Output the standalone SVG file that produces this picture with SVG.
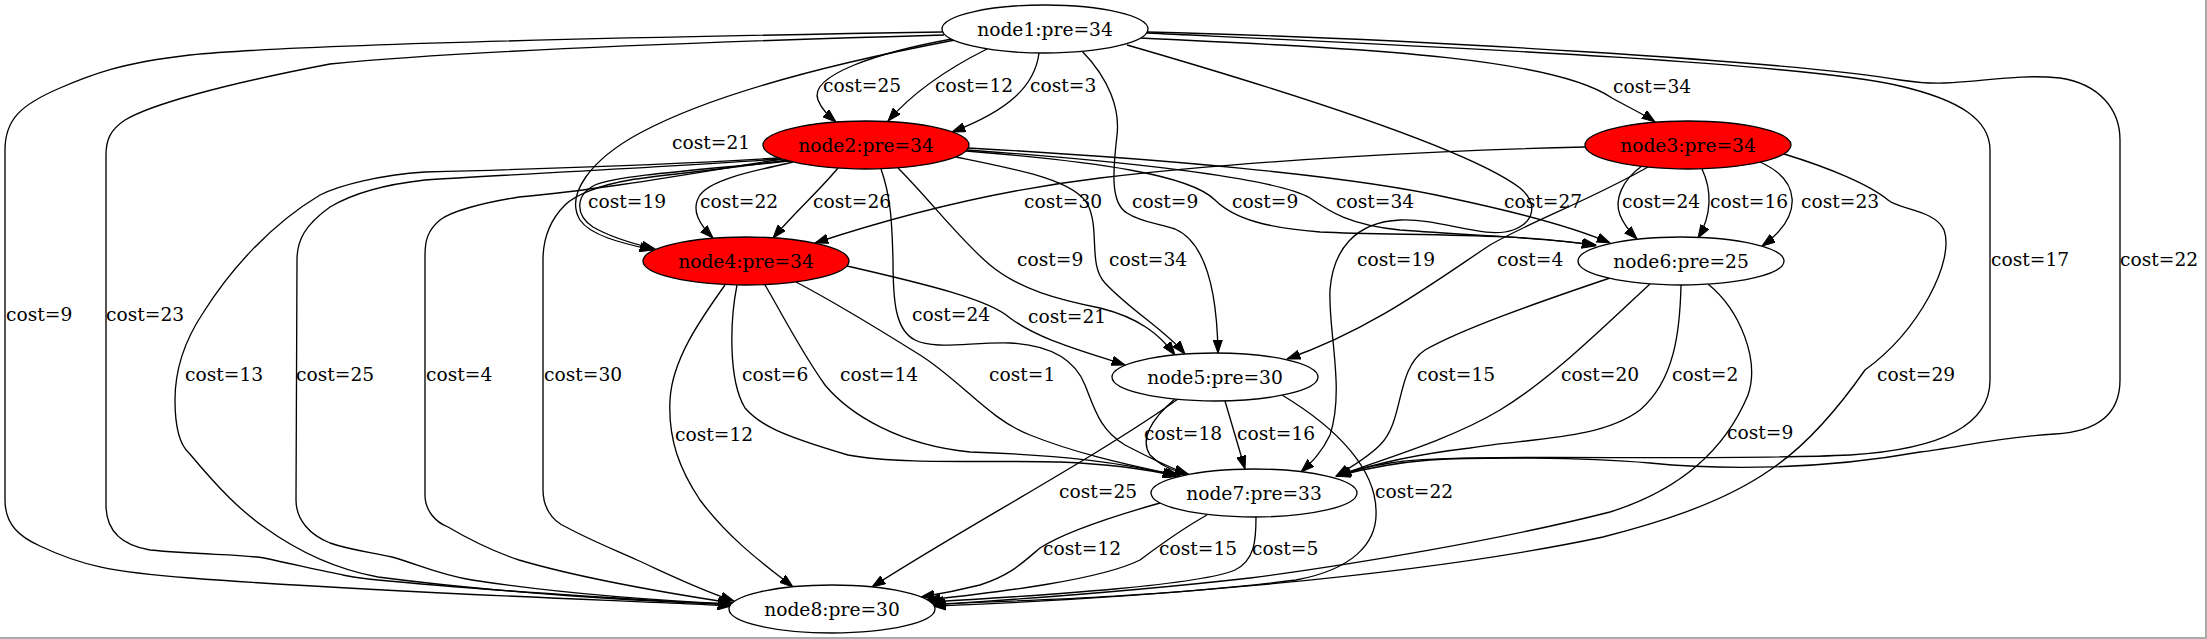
<svg xmlns="http://www.w3.org/2000/svg" width="2207" height="639" viewBox="0 0 2207 639">
<defs>
<marker id="arr" viewBox="0 0 14 10" refX="13.3" refY="5" markerWidth="14" markerHeight="10" markerUnits="userSpaceOnUse" orient="auto"><path d="M0,0.33 L13.3,5 L0,9.67 Z" fill="#000" stroke="#000" stroke-width="1"/></marker>
</defs>
<style>
.n ellipse{stroke:#000;stroke-width:1.33}
.w{fill:#fff}
.r{fill:#ff0000}
text{font-family:"DejaVu Serif","Liberation Serif",serif;font-size:18.67px;fill:#000}
.n text{text-anchor:middle}
.e path{fill:none;stroke:#000;stroke-width:1.33;marker-end:url(#arr)}
</style>
<rect width="2207" height="639" fill="#fff"/>
<path d="M0,638 H2206 V0" fill="none" stroke="#aaa" stroke-width="2"/>
<g id="connectors">
<g class="e" id="e1"><path d="M952,39 C880,52 808,75 818,100 C822,110 829,116 836,122"/><text x="823" y="92">cost=25</text></g>
<g class="e" id="e2"><path d="M987,49 C955,65 915,90 888,121"/><text x="935" y="92">cost=12</text></g>
<g class="e" id="e3"><path d="M1039,53 C1035,85 1010,110 952,132"/><text x="1030" y="92">cost=3</text></g>
<g class="e" id="e4"><path d="M1141,38 C1340,48 1550,55 1612,98 C1630,108 1645,115 1655,122"/><text x="1613" y="93">cost=34</text></g>
<g class="e" id="e5"><path d="M955,40 C850,60 720,90 640,133 C590,160 565,195 580,220 C590,235 620,243 653,250"/><text x="672" y="149">cost=21</text></g>
<g class="e" id="e6"><path d="M1082,51 C1110,80 1120,110 1117,135 C1113,170 1110,203 1127,213 C1140,222 1160,224 1175,229 C1205,242 1217,290 1218,353"/><text x="1132" y="208">cost=9</text></g>
<g class="e" id="e7"><path d="M1127,45 C1300,95 1470,150 1520,188 C1538,203 1535,222 1513,230 C1485,240 1440,218 1400,220 C1355,222 1333,250 1330,290 C1328,330 1345,390 1330,435 C1322,452 1312,462 1301,472"/><text x="1357" y="266">cost=19</text></g>
<g class="e" id="e8"><path d="M1147,33 C1400,45 1800,62 1900,86 C1960,100 1990,120 1990,150 L1990,380 C1990,430 1930,450 1850,455 C1700,462 1450,452 1390,463 C1365,467 1350,471 1337,476"/><text x="1991" y="266">cost=17</text></g>
<g class="e" id="e9"><path d="M1147,32 C1400,38 1800,62 1900,80 C1960,90 2000,72 2060,78 C2100,84 2120,110 2120,140 L2120,380 C2120,420 2090,432 2055,434 C2000,437 1960,447 1920,452 C1820,470 1720,470 1650,463 C1580,457 1480,457 1430,460 C1390,463 1360,470 1337,476"/><text x="2120" y="266">cost=22</text></g>
<g class="e" id="e10"><path d="M942,32 C700,36 300,44 190,55 C120,63 90,75 60,88 C20,105 5,120 5,150 L5,500 C5,525 20,537 40,546 C80,565 110,572 190,578 C400,594 650,601 731,606"/><text x="6" y="321">cost=9</text></g>
<g class="e" id="e11"><path d="M944,35 C700,42 450,52 330,64 C220,85 150,105 125,120 C110,130 106,140 106,155 L106,505 C106,530 120,545 150,550 C200,555 240,554 264,558 C320,570 350,578 378,580 C500,592 650,600 731,605"/><text x="106" y="321">cost=23</text></g>
<g class="e" id="e12"><path d="M790,161 C700,170 620,175 595,185 C575,195 575,215 593,227 C610,237 630,243 655,249"/><text x="588" y="208">cost=19</text></g>
<g class="e" id="e13"><path d="M793,162 C760,170 712,178 700,195 C690,210 700,225 713,238"/><text x="700" y="208">cost=22</text></g>
<g class="e" id="e14"><path d="M838,168 C820,190 795,212 773,238"/><text x="813" y="208">cost=26</text></g>
<g class="e" id="e15"><path d="M898,168 C930,200 960,240 990,265 C1020,290 1060,300 1100,308 C1140,318 1160,335 1175,355"/><text x="1017" y="266">cost=9</text></g>
<g class="e" id="e16"><path d="M956,157 C1020,170 1075,180 1088,205 C1100,230 1088,265 1105,283 C1130,310 1165,330 1185,354"/><text x="1109" y="266">cost=34</text></g>
<g class="e" id="e17"><path d="M966,151 C1100,162 1190,175 1215,200 C1235,220 1270,228 1320,232 C1400,236 1520,232 1595,246"/><text x="1232" y="208">cost=9</text></g>
<g class="e" id="e18"><path d="M967,150 C1150,163 1280,180 1310,198 C1330,212 1350,225 1400,230 C1480,236 1550,238 1596,245"/><text x="1336" y="208">cost=34</text></g>
<g class="e" id="e19"><path d="M968,148 C1150,158 1350,175 1450,198 C1530,215 1580,230 1610,243"/><text x="1504" y="208">cost=27</text></g>
<g class="e" id="e20"><path d="M881,169 C892,200 892,230 893,260 C893,300 895,330 915,340 C935,350 970,342 1010,343 C1050,345 1075,360 1085,385 C1095,410 1100,430 1125,445 C1150,458 1170,468 1188,474"/><text x="912" y="321">cost=24</text></g>
<g class="e" id="e21"><path d="M778,158 C650,166 500,170 425,172 C380,175 340,185 320,195 C270,225 230,270 203,313 C185,340 175,370 175,400 C175,430 180,445 189,453 C220,490 240,510 264,527 C300,553 340,570 378,577 C500,593 650,602 731,604"/><text x="185" y="381">cost=13</text></g>
<g class="e" id="e22"><path d="M780,159 C650,168 500,175 425,180 C380,185 350,195 330,207 C305,225 297,240 297,260 L296,500 C296,520 310,535 330,543 C350,550 370,552 392,557 C420,565 440,575 472,580 C550,592 650,600 731,604"/><text x="296" y="381">cost=25</text></g>
<g class="e" id="e23"><path d="M782,159 C700,172 600,190 519,197 C480,203 450,212 440,220 C428,230 425,240 425,255 L425,495 C425,510 435,522 448,527 C470,540 495,552 519,560 C580,578 660,592 732,603"/><text x="426" y="381">cost=4</text></g>
<g class="e" id="e24"><path d="M787,160 C720,170 660,175 630,180 C600,185 575,195 565,205 C550,220 543,240 543,260 L543,490 C543,505 550,520 566,527 C590,540 615,550 637,560 C670,575 700,590 734,601"/><text x="544" y="381">cost=30</text></g>
<g class="e" id="e25"><path d="M1585,147 C1450,150 1250,160 1100,178 C1000,190 900,215 815,243"/><text x="1024" y="208">cost=30</text></g>
<g class="e" id="e26"><path d="M1642,166 C1622,180 1614,200 1620,215 C1624,225 1630,232 1637,239"/><text x="1622" y="208">cost=24</text></g>
<g class="e" id="e27"><path d="M1702,169 C1712,190 1712,215 1698,238"/><text x="1710" y="208">cost=16</text></g>
<g class="e" id="e28"><path d="M1760,162 C1800,180 1805,215 1762,246"/><text x="1801" y="208">cost=23</text></g>
<g class="e" id="e29"><path d="M1648,167 C1590,200 1530,222 1490,245 C1430,285 1370,330 1287,359"/><text x="1497" y="266">cost=4</text></g>
<g class="e" id="e30"><path d="M1784,154 C1830,168 1870,185 1888,200 C1900,210 1935,210 1944,230 C1955,260 1920,330 1865,370 C1830,420 1800,450 1770,470 C1720,505 1650,525 1603,537 C1400,580 1100,600 933,606"/><text x="1877" y="381">cost=29</text></g>
<g class="e" id="e31"><path d="M847,266 C930,285 990,300 1010,318 C1040,340 1080,350 1125,365"/><text x="1028" y="323">cost=21</text></g>
<g class="e" id="e32"><path d="M737,285 C730,320 728,380 745,408 C760,425 780,435 848,455 C900,465 1000,460 1060,462 C1110,464 1150,470 1176,476"/><text x="742" y="381">cost=6</text></g>
<g class="e" id="e33"><path d="M765,285 C780,310 800,350 825,385 C850,415 900,445 970,452 C1060,455 1120,462 1178,476"/><text x="840" y="381">cost=14</text></g>
<g class="e" id="e34"><path d="M796,282 C840,305 880,330 920,355 C960,380 990,420 1030,435 C1080,455 1130,465 1180,476"/><text x="989" y="381">cost=1</text></g>
<g class="e" id="e35"><path d="M725,285 C700,320 672,360 670,400 C668,440 680,470 700,500 C730,540 765,565 793,587"/><text x="675" y="441">cost=12</text></g>
<g class="e" id="e36"><path d="M1175,399 C1150,420 1140,440 1150,455 C1160,465 1170,470 1188,474"/><text x="1144" y="440">cost=18</text></g>
<g class="e" id="e37"><path d="M1225,401 L1245,469"/><text x="1237" y="440">cost=16</text></g>
<g class="e" id="e38"><path d="M1178,399 C1100,455 960,530 872,587"/><text x="1059" y="498">cost=25</text></g>
<g class="e" id="e39"><path d="M1282,395 C1340,430 1375,470 1376,510 C1378,545 1350,570 1296,580 C1180,595 1050,600 932,604"/><text x="1375" y="498">cost=22</text></g>
<g class="e" id="e40"><path d="M1610,278 C1530,305 1460,330 1425,350 C1395,370 1405,420 1380,445 C1370,455 1355,465 1336,476"/><text x="1417" y="381">cost=15</text></g>
<g class="e" id="e41"><path d="M1650,284 C1600,330 1550,380 1500,410 C1450,440 1380,460 1337,476"/><text x="1561" y="381">cost=20</text></g>
<g class="e" id="e42"><path d="M1681,285 C1680,330 1675,380 1640,410 C1600,440 1530,438 1470,448 C1410,455 1370,465 1338,476"/><text x="1672" y="381">cost=2</text></g>
<g class="e" id="e43"><path d="M1708,284 C1740,310 1760,360 1748,395 C1725,450 1680,490 1610,512 C1500,540 1350,565 1250,578 C1100,595 1000,600 932,605"/><text x="1727" y="439">cost=9</text></g>
<g class="e" id="e44"><path d="M1160,503 C1100,520 1060,535 1040,548 C1020,565 1010,575 980,585 C960,590 940,594 921,597"/><text x="1043" y="555">cost=12</text></g>
<g class="e" id="e45"><path d="M1207,515 C1180,530 1160,545 1140,560 C1100,580 1000,592 927,600"/><text x="1159" y="555">cost=15</text></g>
<g class="e" id="e46"><path d="M1256,517 C1256,540 1255,560 1235,570 C1200,585 1050,595 930,602"/><text x="1252" y="555">cost=5</text></g>
</g>
<g class="n" id="node1"><ellipse class="w" cx="1045" cy="29" rx="103" ry="24"/><text x="1045" y="35.5">node1:pre=34</text></g>
<g class="n" id="node2"><ellipse class="r" cx="866" cy="145" rx="103" ry="24"/><text x="866" y="151.5">node2:pre=34</text></g>
<g class="n" id="node3"><ellipse class="r" cx="1688" cy="145" rx="103" ry="24"/><text x="1688" y="151.5">node3:pre=34</text></g>
<g class="n" id="node4"><ellipse class="r" cx="746" cy="261" rx="103" ry="24"/><text x="746" y="267.5">node4:pre=34</text></g>
<g class="n" id="node6"><ellipse class="w" cx="1681" cy="261" rx="103" ry="24"/><text x="1681" y="267.5">node6:pre=25</text></g>
<g class="n" id="node5"><ellipse class="w" cx="1215" cy="377" rx="103" ry="24"/><text x="1215" y="383.5">node5:pre=30</text></g>
<g class="n" id="node7"><ellipse class="w" cx="1254" cy="493" rx="103" ry="24"/><text x="1254" y="499.5">node7:pre=33</text></g>
<g class="n" id="node8"><ellipse class="w" cx="832" cy="609" rx="103" ry="24"/><text x="832" y="615.5">node8:pre=30</text></g>
</svg>
